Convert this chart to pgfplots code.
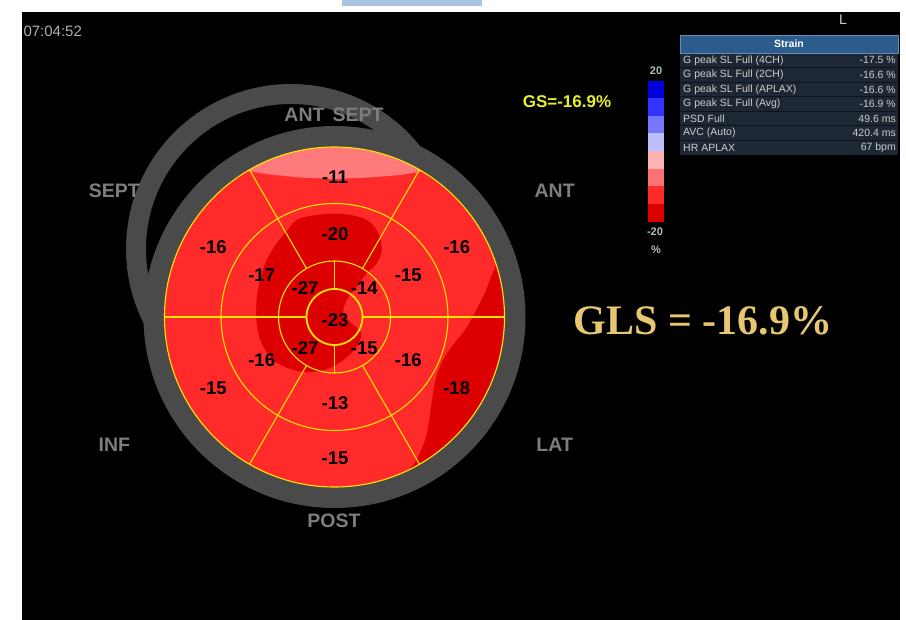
\documentclass[border=0pt]{standalone}
\usepackage{pgfplots}
\usepackage{pgfplotstable}
\pgfplotsset{compat=1.18}
\usepackage{fontspec}
\setmainfont{Liberation Sans}
\newfontfamily\glsfont{Liberation Serif}

\definecolor{bright}{RGB}{255,42,42}
\definecolor{deep}{RGB}{220,0,0}
\definecolor{pinkcap}{RGB}{255,122,122}
\definecolor{ring}{RGB}{74,74,74}
\definecolor{lbl}{RGB}{125,125,125}
\definecolor{segline}{RGB}{255,228,0}
\definecolor{gsyel}{RGB}{232,240,40}
\definecolor{gold}{RGB}{230,198,112}
\definecolor{panel}{RGB}{30,40,52}
\definecolor{rowsep}{RGB}{14,20,28}
\definecolor{hdr}{RGB}{44,92,140}
\definecolor{hdredge}{RGB}{100,140,180}
\definecolor{ptext}{RGB}{205,205,205}
\definecolor{cbl}{RGB}{165,195,185}
\definecolor{timegray}{RGB}{175,175,175}
\definecolor{topbar}{RGB}{170,196,226}

% segment values of the 17-segment bullseye (x, y in picture pixels)
\pgfplotstableread{
x y v
335 176.7 -11
213.3 247.3 -16
456.7 247.3 -16
213.3 388.3 -15
456.7 388.3 -18
335 458.3 -15
335 234 -20
261.7 275 -17
408.3 275 -15
261.7 360 -16
408.3 360 -16
335 403.3 -13
305 288.3 -27
364.3 288.3 -14
305 348.3 -27
364.3 348.3 -15
335 320 -23
}\segvals

\begin{document}
\begin{tikzpicture}
\begin{axis}[
    width=906pt, height=620pt, scale only axis,
    xmin=0, xmax=906, ymin=0, ymax=620,
    y dir=reverse, hide axis, clip=false,
]
% background
\fill[white] (axis cs:0,0) rectangle (axis cs:906,620);
\fill[black] (axis cs:22,12) rectangle (axis cs:900,620);
\fill[topbar] (axis cs:342,0) rectangle (axis cs:482,6);

% shifted grey ring
\fill[ring, even odd rule] (axis cs:291,249) circle[radius=165] (axis cs:291,249) circle[radius=145];

% base disk
\fill[bright] (axis cs:334.5,317) circle[radius=170];

% light cap at the top
\addplot[fill=pinkcap, draw=none] coordinates {
    (241,160) (247,171) (270,174.5) (300,177.5) (335,179) (370,177.5)
    (400,175) (422,171.5) (428,160) (400,140) (335,136) (270,140) (241,160)
};

% dark central region
\addplot[fill=deep, draw=none, smooth, tension=0.6] coordinates {
    (286.7,231.7) (296.7,220) (316.7,215) (343.3,214) (366.7,220)
    (378.3,233.3) (381.7,250) (376.7,263.3) (366.7,273.3) (356.7,286.7)
    (346.7,300) (343.3,313.3) (350,322) (361,333) (357,346) (346,358)
    (330,368) (313.3,372) (293.3,370) (273.3,360) (261.7,343.3)
    (256.7,323.3) (256.7,300) (260,280) (266.7,260) (276.7,243.3) (286.7,231.7)
};

% dark lateral region
\addplot[fill=deep, draw=none, smooth, tension=0.5] coordinates {
    (497,262) (490,280) (483,297) (467,327) (453,345) (443,360)
    (436,378) (432,400) (427,433) (420,453) (413,465) (405,473)
    (408.5,483.3) (463.2,445.7) (505.5,379.2) (516.5,317) (507.6,260.8) (497,262)
};

% main grey ring
\fill[ring, even odd rule] (axis cs:334.5,317) circle[radius=191] (axis cs:334.5,317) circle[radius=170];

% segment borders
\begin{scope}[shift={(axis cs:334.5,317)}, segline, line width=1.1pt]
\draw (0,0) circle[radius=170pt];
\draw (0,0) circle[radius=113.5pt];
\draw (0,0) circle[radius=56pt];
\draw[line width=1.8pt] (0,0) circle[radius=28pt];
\draw (60:56pt) -- (60:170pt);
\draw (120:56pt) -- (120:170pt);
\draw (240:56pt) -- (240:170pt);
\draw (300:56pt) -- (300:170pt);
\draw (28pt,0) -- (170pt,0);
\draw (-28pt,0) -- (-170pt,0);
\draw (0,28pt) -- (0,56pt);
\draw (0,-28pt) -- (0,-56pt);
\end{scope}

% segment values
\addplot[only marks, mark=none, nodes near coords, point meta=explicit symbolic,
    nodes near coords style={anchor=center, text=black, inner sep=0pt,
        font=\fontsize{18.5}{18.5}\selectfont\bfseries}]
    table[x=x, y=y, meta=v] {\segvals};

% wall labels
\begin{scope}[every node/.style={text=lbl, font=\fontsize{19.5}{19.5}\selectfont\bfseries}]
\node at (axis cs:334,115) {ANT\hspace{8pt}SEPT};
\node at (axis cs:114.3,190.7) {SEPT};
\node at (axis cs:554.7,190.7) {ANT};
\node at (axis cs:114.3,444.5) {INF};
\node at (axis cs:554.7,444.5) {LAT};
\node at (axis cs:334,521) {POST};
\end{scope}

% header texts
\node[anchor=west, text=timegray, font=\fontsize{15}{15}\selectfont] at (axis cs:20,31) {07:04:52};
\node[text=ptext, font=\fontsize{14}{14}\selectfont] at (axis cs:843,20) {L};
\node[text=gsyel, font=\fontsize{17}{17}\selectfont\bfseries] at (axis cs:567,101.7) {GS=-16.9\%};

% colour scale
\fill[fill={rgb,255:red,0;green,0;blue,221}]   (axis cs:648.3,80.7)  rectangle (axis cs:664,98.3);
\fill[fill={rgb,255:red,51;green,51;blue,255}] (axis cs:648.3,98.3)  rectangle (axis cs:664,115.9);
\fill[fill={rgb,255:red,120;green,120;blue,255}] (axis cs:648.3,115.9) rectangle (axis cs:664,133.5);
\fill[fill={rgb,255:red,190;green,190;blue,255}] (axis cs:648.3,133.5) rectangle (axis cs:664,151.1);
\fill[fill={rgb,255:red,255;green,180;blue,180}] (axis cs:648.3,151.1) rectangle (axis cs:664,168.7);
\fill[fill={rgb,255:red,255;green,112;blue,112}] (axis cs:648.3,168.7) rectangle (axis cs:664,186.3);
\fill[fill={rgb,255:red,255;green,42;blue,42}]   (axis cs:648.3,186.3) rectangle (axis cs:664,203.9);
\fill[fill={rgb,255:red,220;green,0;blue,0}]     (axis cs:648.3,203.9) rectangle (axis cs:664,221.7);
\begin{scope}[every node/.style={text=cbl, font=\fontsize{11}{11}\selectfont\bfseries}]
\node at (axis cs:656,70.7) {20};
\node at (axis cs:655,231.7) {-20};
\node at (axis cs:656,250) {\%};
\end{scope}

% strain panel
\fill[panel] (axis cs:680,53) rectangle (axis cs:898,155);
\draw[rowsep, line width=1pt] (axis cs:680,67.6) -- (axis cs:898,67.6);
\draw[rowsep, line width=1pt] (axis cs:680,82.1) -- (axis cs:898,82.1);
\draw[rowsep, line width=1pt] (axis cs:680,96.7) -- (axis cs:898,96.7);
\draw[rowsep, line width=1pt] (axis cs:680,111.3) -- (axis cs:898,111.3);
\draw[rowsep, line width=1pt] (axis cs:680,125.9) -- (axis cs:898,125.9);
\draw[rowsep, line width=1pt] (axis cs:680,140.4) -- (axis cs:898,140.4);
\fill[hdr] (axis cs:680,35) rectangle (axis cs:898,53);
\draw[hdredge, line width=0.8pt] (axis cs:680,35) rectangle (axis cs:898,53);
\node[text=white, font=\fontsize{10.5}{10.5}\selectfont\bfseries] at (axis cs:789,44) {Strain};
\begin{scope}[every node/.style={text=ptext, font=\fontsize{10.5}{10.5}\selectfont, inner sep=0pt}]
\node[anchor=west] at (axis cs:683,60.3) {G peak SL Full (4CH)};
\node[anchor=west] at (axis cs:683,74.9) {G peak SL Full (2CH)};
\node[anchor=west] at (axis cs:683,89.4) {G peak SL Full (APLAX)};
\node[anchor=west] at (axis cs:683,104) {G peak SL Full (Avg)};
\node[anchor=west] at (axis cs:683,118.6) {PSD Full};
\node[anchor=west] at (axis cs:683,133.2) {AVC (Auto)};
\node[anchor=west] at (axis cs:683,147.7) {HR APLAX};
\node[anchor=east] at (axis cs:896,60.3) {-17.5 \%};
\node[anchor=east] at (axis cs:896,74.9) {-16.6 \%};
\node[anchor=east] at (axis cs:896,89.4) {-16.6 \%};
\node[anchor=east] at (axis cs:896,104) {-16.9 \%};
\node[anchor=east] at (axis cs:896,118.6) {49.6 ms};
\node[anchor=east] at (axis cs:896,133.2) {420.4 ms};
\node[anchor=east] at (axis cs:896,147.7) {67 bpm};
\end{scope}

% global strain
\node[text=gold, font=\glsfont\fontsize{42}{42}\selectfont\bfseries] at (axis cs:703,321) {GLS = -16.9\%};
\end{axis}
\end{tikzpicture}
\end{document}
